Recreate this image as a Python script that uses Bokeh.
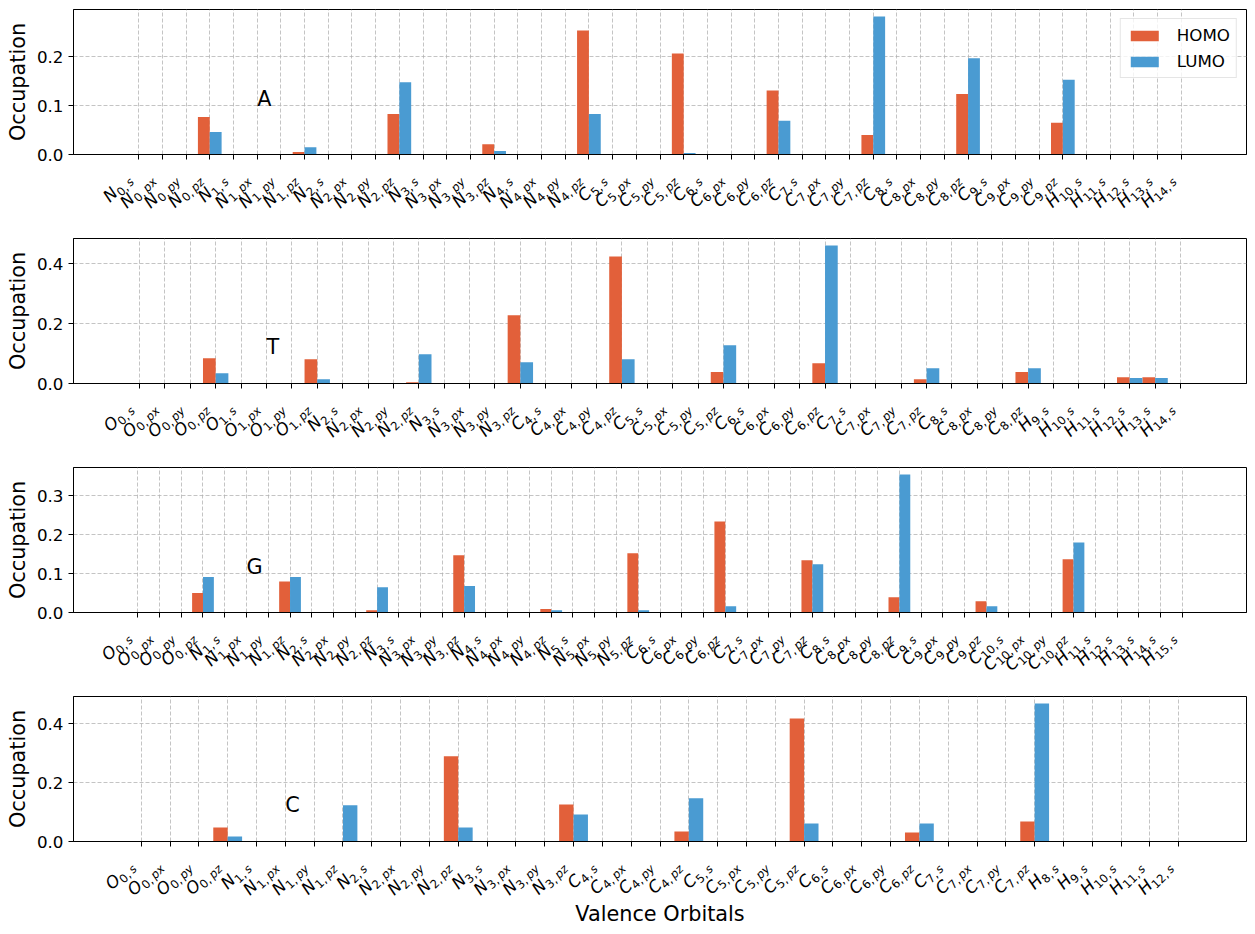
import math
import re
from bokeh.plotting import figure
from bokeh.models import (ColumnDataSource, Range1d, FixedTicker, PrintfTickFormatter,
                          Label, Legend, LegendItem)
from bokeh.layouts import column
from bokeh.transform import dodge
from bokeh.core.properties import value
from bokeh.embed import file_html
from bokeh.resources import INLINE

# ---------------- data ----------------
A_orbitals = ["N0,s", "N0,px", "N0,py", "N0,pz", "N1,s", "N1,px", "N1,py", "N1,pz",
              "N2,s", "N2,px", "N2,py", "N2,pz", "N3,s", "N3,px", "N3,py", "N3,pz",
              "N4,s", "N4,px", "N4,py", "N4,pz", "C5,s", "C5,px", "C5,py", "C5,pz",
              "C6,s", "C6,px", "C6,py", "C6,pz", "C7,s", "C7,px", "C7,py", "C7,pz",
              "C8,s", "C8,px", "C8,py", "C8,pz", "C9,s", "C9,px", "C9,py", "C9,pz",
              "H10,s", "H11,s", "H12,s", "H13,s", "H14,s"]
A_homo = [0, 0, 0, 0.077, 0, 0, 0, 0.005, 0, 0, 0, 0.083, 0, 0, 0, 0.021,
          0, 0, 0, 0.254, 0, 0, 0, 0.207, 0, 0, 0, 0.131, 0, 0, 0, 0.040,
          0, 0, 0, 0.124, 0, 0, 0, 0.065, 0, 0, 0, 0, 0]
A_lumo = [0, 0, 0, 0.046, 0, 0, 0, 0.015, 0, 0, 0, 0.148, 0, 0, 0, 0.007,
          0, 0, 0, 0.083, 0, 0, 0, 0.003, 0, 0, 0, 0.069, 0, 0, 0, 0.283,
          0, 0, 0, 0.197, 0, 0, 0, 0.153, 0, 0, 0, 0, 0]
A_yticks = [0.0, 0.1, 0.2]

T_orbitals = ["O0,s", "O0,px", "O0,py", "O0,pz", "O1,s", "O1,px", "O1,py", "O1,pz",
              "N2,s", "N2,px", "N2,py", "N2,pz", "N3,s", "N3,px", "N3,py", "N3,pz",
              "C4,s", "C4,px", "C4,py", "C4,pz", "C5,s", "C5,px", "C5,py", "C5,pz",
              "C6,s", "C6,px", "C6,py", "C6,pz", "C7,s", "C7,px", "C7,py", "C7,pz",
              "C8,s", "C8,px", "C8,py", "C8,pz",
              "H9,s", "H10,s", "H11,s", "H12,s", "H13,s", "H14,s"]
T_homo = [0, 0, 0, 0.084, 0, 0, 0, 0.081, 0, 0, 0, 0.004, 0, 0, 0, 0.228,
          0, 0, 0, 0.424, 0, 0, 0, 0.038, 0, 0, 0, 0.068, 0, 0, 0, 0.014,
          0, 0, 0, 0.038, 0, 0, 0, 0.021, 0.021, 0]
T_lumo = [0, 0, 0, 0.034, 0, 0, 0, 0.014, 0, 0, 0, 0.098, 0, 0, 0, 0.071,
          0, 0, 0, 0.081, 0, 0, 0, 0.128, 0, 0, 0, 0.461, 0, 0, 0, 0.051,
          0, 0, 0, 0.051, 0, 0, 0, 0.018, 0.018, 0]
T_yticks = [0.0, 0.2, 0.4]

G_orbitals = ["O0,s", "O0,px", "O0,py", "O0,pz", "N1,s", "N1,px", "N1,py", "N1,pz",
              "N2,s", "N2,px", "N2,py", "N2,pz", "N3,s", "N3,px", "N3,py", "N3,pz",
              "N4,s", "N4,px", "N4,py", "N4,pz", "N5,s", "N5,px", "N5,py", "N5,pz",
              "C6,s", "C6,px", "C6,py", "C6,pz", "C7,s", "C7,px", "C7,py", "C7,pz",
              "C8,s", "C8,px", "C8,py", "C8,pz", "C9,s", "C9,px", "C9,py", "C9,pz",
              "C10,s", "C10,px", "C10,py", "C10,pz",
              "H11,s", "H12,s", "H13,s", "H14,s", "H15,s"]
G_homo = [0, 0, 0, 0.050, 0, 0, 0, 0.080, 0, 0, 0, 0.006, 0, 0, 0, 0.147,
          0, 0, 0, 0.009, 0, 0, 0, 0.152, 0, 0, 0, 0.234, 0, 0, 0, 0.134,
          0, 0, 0, 0.039, 0, 0, 0, 0.029, 0, 0, 0, 0.137, 0, 0, 0, 0, 0]
G_lumo = [0, 0, 0, 0.091, 0, 0, 0, 0.091, 0, 0, 0, 0.065, 0, 0, 0, 0.068,
          0, 0, 0, 0.006, 0, 0, 0, 0.006, 0, 0, 0, 0.016, 0, 0, 0, 0.124,
          0, 0, 0, 0.355, 0, 0, 0, 0.016, 0, 0, 0, 0.180, 0, 0, 0, 0, 0]
G_yticks = [0.0, 0.1, 0.2, 0.3]

C_orbitals = ["O0,s", "O0,px", "O0,py", "O0,pz", "N1,s", "N1,px", "N1,py", "N1,pz",
              "N2,s", "N2,px", "N2,py", "N2,pz", "N3,s", "N3,px", "N3,py", "N3,pz",
              "C4,s", "C4,px", "C4,py", "C4,pz", "C5,s", "C5,px", "C5,py", "C5,pz",
              "C6,s", "C6,px", "C6,py", "C6,pz", "C7,s", "C7,px", "C7,py", "C7,pz",
              "H8,s", "H9,s", "H10,s", "H11,s", "H12,s"]
C_homo = [0, 0, 0, 0.048, 0, 0, 0, 0.0, 0, 0, 0, 0.290, 0, 0, 0, 0.126,
          0, 0, 0, 0.034, 0, 0, 0, 0.419, 0, 0, 0, 0.031, 0, 0, 0, 0.068,
          0, 0, 0, 0, 0]
C_lumo = [0, 0, 0, 0.017, 0, 0, 0, 0.123, 0, 0, 0, 0.048, 0, 0, 0, 0.092,
          0, 0, 0, 0.147, 0, 0, 0, 0.061, 0, 0, 0, 0.061, 0, 0, 0, 0.470,
          0, 0, 0, 0, 0]
C_yticks = [0.0, 0.2, 0.4]

panels = [
    ("A", A_orbitals, A_homo, A_lumo, A_yticks),
    ("T", T_orbitals, T_homo, T_lumo, T_yticks),
    ("G", G_orbitals, G_homo, G_lumo, G_yticks),
    ("C", C_orbitals, C_homo, C_lumo, C_yticks),
]

# ---------------- style ----------------
FONT = "DejaVu Sans"
HOMO_COLOR = "#e2603a"
LUMO_COLOR = "#4a9bd2"
TICK_FS = 16.7
SUB_FS = 0.7 * TICK_FS
AX_FS = "20.8px"
W = 1255
FRAME_LEFT = 73
FRAME_RIGHT = 9
TOP = 9
FRAME_H = 145
GAP = 12                      # room under the frame kept in the bar figure
MAIN_H = TOP + FRAME_H + GAP
STEP = 229

# DejaVu Sans advance widths (em)
ADV = {"N": 0.748, "O": 0.787, "C": 0.698, "H": 0.752, ",": 0.318,
       "s": 0.521, "p": 0.635, "x": 0.592, "y": 0.592, "z": 0.525}
for dch in "0123456789":
    ADV[dch] = 0.636


def twidth(txt, size):
    return sum(ADV[ch] for ch in txt) * size


cs = math.sqrt(0.5)
SUB_DROP = 0.2 * TICK_FS
COMMA_SP = 0.2 * 0.974 * SUB_FS
DX0 = -6.0
DY0 = -26.0
BASE_COMP = 0.36   # baseline compensation (em)


def label_parts(orbitals):
    """Three sources (letter, index, orbital) for the rotated tick labels."""
    stores = {key: {c: [] for c in ("x", "y", "xo", "t")} for key in ("el", "ix", "ob")}
    for i, lab in enumerate(orbitals):
        m = re.match(r"([A-Z][a-z]?)(\d+,)(\w+)", lab)
        el, ix, ob = m.group(1), m.group(2), m.group(3)
        extra = 0.1 * SUB_FS if "p" in ob else 0.0
        ex, ey = DX0 - cs * extra, DY0
        sx, sy = ex + SUB_DROP * cs, ey - SUB_DROP * cs
        w_orb = twidth(ob, SUB_FS)
        w_idx = twidth(ix, SUB_FS)
        pieces = [
            ("ob", ob, SUB_FS, sx, sy),
            ("ix", ix, SUB_FS, sx - (w_orb + COMMA_SP) * cs, sy - (w_orb + COMMA_SP) * cs),
            ("el", el, TICK_FS, ex - (w_orb + COMMA_SP + w_idx) * cs,
             ey - (w_orb + COMMA_SP + w_idx) * cs),
        ]
        for key, txt, size, px, py in pieces:
            comp = BASE_COMP * size
            st = stores[key]
            st["x"].append(i)
            st["y"].append(py + comp * cs)
            st["xo"].append(px - comp * cs)
            st["t"].append(txt)
    return stores


figs = []
for k, (name, orbitals, homo, lumo, yticks) in enumerate(panels):
    n = len(orbitals)
    last = k == len(panels) - 1
    strip_h = (934 - STEP * 3 if last else STEP) - MAIN_H
    ymax = 1.05 * max(max(homo), max(lumo))
    xr = Range1d(-0.5 - 0.05 * n, n - 0.5 + 0.05 * n)

    # ---------- bar panel ----------
    p = figure(width=W, height=MAIN_H, title=None, toolbar_location=None,
               output_backend="svg", x_range=xr, y_range=Range1d(0, ymax),
               min_border_left=FRAME_LEFT, min_border_right=FRAME_RIGHT,
               min_border_top=TOP, min_border_bottom=GAP)
    src = ColumnDataSource(dict(x=list(range(n)), homo=homo, lumo=lumo))
    r1 = p.vbar(x=dodge("x", -0.25, range=xr), top="homo", width=0.5,
                source=src, fill_color=HOMO_COLOR, line_color=None)
    r2 = p.vbar(x=dodge("x", 0.25, range=xr), top="lumo", width=0.5,
                source=src, fill_color=LUMO_COLOR, line_color=None)

    p.outline_line_color = "black"
    p.outline_line_width = 1
    p.background_fill_color = "white"
    p.border_fill_color = "white"

    p.xaxis.ticker = FixedTicker(ticks=list(range(n)))
    p.xaxis.major_label_overrides = {i: "" for i in range(n)}
    p.xaxis.major_label_text_font_size = "1px"
    p.xaxis.major_label_standoff = 0
    p.xaxis.major_tick_out = 5
    p.xaxis.major_tick_in = 0
    p.xaxis.minor_tick_line_color = None
    p.xaxis.axis_line_color = "black"
    p.xaxis.major_tick_line_color = "black"

    for g in (p.xgrid, p.ygrid):
        g.grid_line_color = "#b0b0b0"
        g.grid_line_alpha = 0.75
        g.grid_line_dash = "4 2"
        g.grid_line_width = 1

    p.yaxis.ticker = FixedTicker(ticks=yticks)
    p.yaxis.formatter = PrintfTickFormatter(format="%.1f")
    p.yaxis.major_tick_out = 5
    p.yaxis.major_tick_in = 0
    p.yaxis.minor_tick_line_color = None
    p.yaxis.major_label_standoff = 5
    p.yaxis.major_label_text_font = FONT
    p.yaxis.major_label_text_font_size = f"{TICK_FS}px"
    p.yaxis.major_label_text_color = "black"
    p.yaxis.axis_label = "Occupation"
    p.yaxis.axis_label_text_font = FONT
    p.yaxis.axis_label_text_font_size = AX_FS
    p.yaxis.axis_label_text_font_style = "normal"
    p.yaxis.axis_label_text_color = "black"
    p.yaxis.axis_label_standoff = 4
    p.yaxis.axis_line_color = "black"
    p.yaxis.major_tick_line_color = "black"

    p.add_layout(Label(x=5, y=0.1, y_offset=7, text=name, text_font=FONT,
                       text_font_size=AX_FS, text_color="black",
                       text_align="left", text_baseline="alphabetic"))

    if k == 0:
        leg = Legend(items=[LegendItem(label="HOMO", renderers=[r1]),
                            LegendItem(label="LUMO", renderers=[r2])],
                     location="top_right")
        leg.label_text_font = FONT
        leg.label_text_font_size = f"{TICK_FS}px"
        leg.label_text_color = "black"
        leg.glyph_width = 35
        leg.glyph_height = 13
        leg.label_height = 20
        leg.label_standoff = 15
        leg.spacing = 6
        leg.padding = 6
        leg.margin = 9
        leg.border_line_color = "#cccccc"
        leg.border_line_width = 1
        leg.background_fill_alpha = 0.8
        p.add_layout(leg)
    figs.append(p)

    # ---------- label strip (y in pixels below the axis line) ----------
    s = figure(width=W, height=strip_h, title=None, toolbar_location=None,
               output_backend="svg", x_range=xr,
               y_range=Range1d(-(strip_h + GAP), -GAP),
               x_axis_type=None, y_axis_type=None,
               min_border_left=FRAME_LEFT, min_border_right=FRAME_RIGHT,
               min_border_top=0, min_border_bottom=0)
    s.outline_line_color = None
    s.xgrid.visible = False
    s.ygrid.visible = False
    s.background_fill_color = "white"
    s.border_fill_color = "white"
    stores = label_parts(orbitals)
    for key, size, style in (("el", TICK_FS, "italic"), ("ix", SUB_FS, "normal"),
                             ("ob", SUB_FS, "italic")):
        s.text(x="x", y="y", x_offset="xo", text="t",
               source=ColumnDataSource(stores[key]),
               angle=45, angle_units="deg",
               text_align="right", text_baseline="alphabetic",
               text_font=value(FONT), text_font_size=value(f"{size:.2f}px"),
               text_font_style=value(style), text_color="black")
    if last:
        s.add_layout(Label(x=(n - 1) / 2, y=-79.5 + 7.4, text="Valence Orbitals",
                           text_font=FONT, text_font_size=AX_FS, text_color="black",
                           text_align="center", text_baseline="alphabetic"))
    figs.append(s)

layout = column(*figs, spacing=0)
open("out.html", "w").write(file_html(layout, INLINE))
